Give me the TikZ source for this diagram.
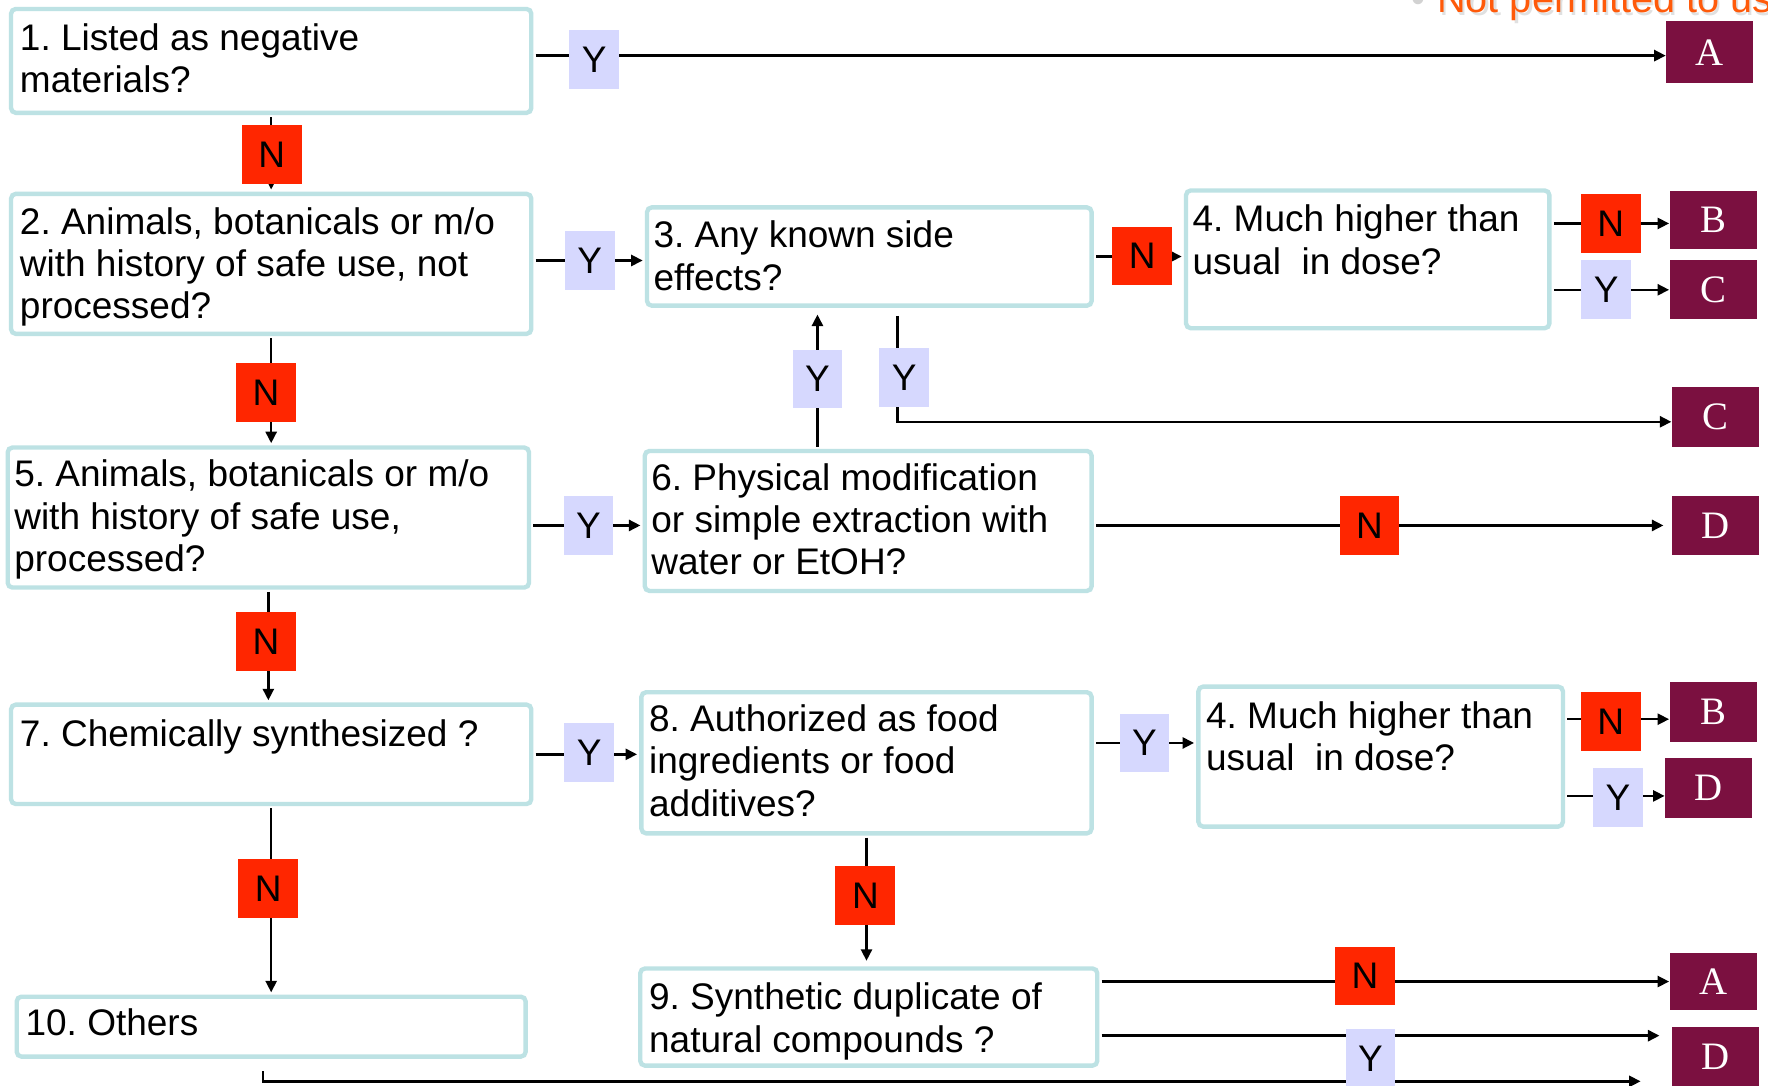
\documentclass[tikz,border=0pt]{standalone}
\usepackage{fontspec}
\setmainfont{Liberation Sans}
\newfontfamily\lettfont{Liberation Serif}
\usetikzlibrary{arrows.meta}
\definecolor{boxline}{RGB}{189,226,228}
\definecolor{yesfill}{RGB}{214,216,254}
\definecolor{nofill}{RGB}{255,38,0}
\definecolor{endfill}{RGB}{123,16,64}
\definecolor{warn}{RGB}{255,90,10}
\newcommand\qfont{\fontsize{9.33pt}{10.67pt}\selectfont\frenchspacing}
\newcommand\qstrut{\rule{0pt}{8pt}}

\begin{document}
\begin{tikzpicture}[x=0.01cm,y=-0.01cm,
  qbox/.style={draw=boxline,line width=1.1pt,rounded corners=1.2pt,fill=white,inner sep=0pt},
  qtext/.style={anchor=north west,inner sep=0pt,align=left,font=\qfont},
  yes/.style={fill=yesfill,minimum width=0.44cm,minimum height=0.52cm,inner sep=0pt,font=\qfont},
  no/.style={fill=nofill,minimum width=0.53cm,minimum height=0.52cm,inner sep=0pt,font=\qfont},
  endbox/.style={fill=endfill,text=white,minimum width=0.77cm,minimum height=0.53cm,inner sep=0pt,
    font=\lettfont\fontsize{9.8pt}{11pt}\selectfont},
  link/.style={line width=0.6pt,shorten <=0.55pt,-{Triangle[length=2.9pt,width=2.8pt]}},
  intobox/.style={shorten >=0.55pt}
]
\useasboundingbox (0,0) rectangle (1568,963);
\fill[white] (0,0) rectangle (1568,963);

% heading note, partly cut by the page edge
\node[anchor=base west,inner sep=0pt,font=\fontsize{10pt}{12pt}\selectfont,text=gray!40,opacity=0.6] (noteshade) at (1276,13.5) {Not permitted to use};
\node[anchor=base west,inner sep=0pt,font=\fontsize{10pt}{12pt}\selectfont,text=warn] (note) at (1274,11.5) {Not permitted to use};
\node[anchor=base west,inner sep=0pt,font=\fontsize{10pt}{12pt}\selectfont,text=gray!35] (notedot) at (1251,11.5) {•};

% question boxes
\node[qbox,minimum width=4.611cm,minimum height=0.921cm] (q1) at (240.5,54) {};
\node[qbox,minimum width=4.611cm,minimum height=1.241cm] (q2) at (240.5,234) {};
\node[qbox,minimum width=3.941cm,minimum height=0.871cm] (q3) at (771,227.5) {};
\node[qbox,minimum width=3.221cm,minimum height=1.221cm] (q4a) at (1213,230) {};
\node[qbox,minimum width=4.621cm,minimum height=1.241cm] (q5) at (238,459) {};
\node[qbox,minimum width=3.961cm,minimum height=1.241cm] (q6) at (770,462) {};
\node[qbox,minimum width=4.611cm,minimum height=0.881cm] (q7) at (240.5,669) {};
\node[qbox,minimum width=3.991cm,minimum height=1.251cm] (q8) at (768.5,676.5) {};
\node[qbox,minimum width=3.231cm,minimum height=1.241cm] (q4b) at (1224.5,671) {};
\node[qbox,minimum width=4.051cm,minimum height=0.861cm] (q9) at (770.5,902) {};
\node[qbox,minimum width=4.511cm,minimum height=0.531cm] (q10) at (240.5,910.5) {};

% question texts
\node[qtext] (t1) at (17,15.9) {\qstrut 1. Listed as negative\\materials?};
\node[qtext] (t2) at (17,178.9) {\qstrut 2. Animals, botanicals or m/o\\with history of safe use, not\\processed?};
\node[qtext] (t3) at (579,190.9) {\qstrut 3. Any known side\\effects?};
\node[qtext] (t4a) at (1057,176.9) {\qstrut 4. Much higher than\\usual\ \ in dose?};
\node[qtext] (t5) at (12,402.9) {\qstrut 5. Animals, botanicals or m/o\\with history of safe use,\\processed?};
\node[qtext] (t6) at (577,405.9) {\qstrut 6. Physical modification\\or simple extraction with\\water or EtOH?};
\node[qtext] (t7) at (17,632.9) {\qstrut 7. Chemically synthesized ?};
\node[qtext] (t8) at (575,619.9) {\qstrut 8. Authorized as food\\ingredients or food\\additives?};
\node[qtext] (t4b) at (1069,616.9) {\qstrut 4. Much higher than\\usual\ \ in dose?};
\node[qtext] (t9) at (575,866.9) {\qstrut 9. Synthetic duplicate of\\natural compounds ?};
\node[qtext] (t10) at (22,889.9) {\qstrut 10. Others};

% outcome boxes
\node[endbox,minimum height=0.55cm] (eA1) at (1516.5,46.5) {A};
\node[endbox,minimum height=0.52cm] (eB1) at (1519.5,195) {B};
\node[endbox,minimum height=0.52cm] (eC1) at (1519.5,257) {C};
\node[endbox] (eC2) at (1521.5,369.5) {C};
\node[endbox,minimum height=0.52cm] (eD1) at (1521.5,466) {D};
\node[endbox] (eB2) at (1519.5,631.5) {B};
\node[endbox] (eD2) at (1515.5,698.5) {D};
\node[endbox,minimum height=0.51cm] (eA2) at (1519.5,870.5) {A};
\node[endbox] (eD3) at (1521.5,937.5) {D};

% connectors
\draw[link] ([yshift=-0.8pt]q1.east |- eA1.west) -- ([yshift=-0.8pt]eA1.west);
\draw[link,intobox] (q1.south) -- (q2.north);
\draw[link,intobox] ([yshift=0.85pt]q2.east) -- ([yshift=0.85pt]q2.east -| q3.west);
\draw[link,intobox] (q3.east) -- (q3.east -| q4a.west);
\draw[link] ([yshift=-0.9pt]q4a.east |- eB1.west) -- ([yshift=-0.9pt]eB1.west);
\draw[link] (q4a.east |- eC1.west) -- (eC1.west);
\draw[link,intobox] (q2.south) -- (q2.south |- q5.north);
\draw[link,shorten >=1.7pt] ([xshift=-12.8pt]q6.north) -- ([xshift=-12.8pt]q6.north |- q3.south);
\draw[link,shorten <=2pt] ([xshift=7.1pt]q3.south) |- ([yshift=-1.3pt]eC2.west);
\draw[link,intobox] (q5.east |- eD1.west) -- (q6.west |- eD1.west);
\draw[link,shorten >=2pt] (q6.east |- eD1.west) -- (eD1.west);
\draw[link,intobox] (q5.south) -- (q5.south |- q7.north);
\draw[link,intobox] (q7.east) -- (q7.east -| q8.west);
\draw[link,intobox] ([yshift=5pt]q8.east) -- ([yshift=5pt]q8.east -| q4b.west);
\draw[link] ([yshift=-1.8pt]q4b.east |- eB2.west) -- ([yshift=-1.8pt]eB2.west);
\draw[link] ([yshift=-2.1pt]q4b.east |- eD2.west) -- ([yshift=-2.1pt]eD2.west);
\draw[link,intobox] (q7.south) -- (q7.south |- q10.north);
\draw[link,shorten >=1.4pt] (q8.south) -- (q8.south |- q9.north);
\draw[link] (q9.east |- eA2.west) -- (eA2.west);
\draw[link,shorten >=3pt] ([yshift=5.4pt]q9.east |- eD3.west) -- ([yshift=5.4pt]eD3.west);
\coordinate (tail) at (1455,959);
\draw[link] ([xshift=-2.1pt,yshift=-2.6pt]q10.south) |- (tail);

% answer tags on the connectors
\node[yes] (y1) at (527,53) {Y};
\node[no] (n1) at (241,137) {N};
\node[yes] (y2) at (523,231) {Y};
\node[no] (n2) at (1013,227) {N};
\node[no] (n3) at (1428.5,198.5) {N};
\node[yes] (y3) at (1424.5,257) {Y};
\node[yes] (y4) at (725,336) {Y};
\node[yes] (y5) at (802,335) {Y};
\node[no] (n4) at (236,348) {N};
\node[yes] (y6) at (522,466) {Y};
\node[no] (n5) at (1214.5,466) {N};
\node[no] (n6) at (236,569) {N};
\node[yes] (y7) at (522.5,667.5) {Y};
\node[yes] (y8) at (1015,659) {Y};
\node[no] (n7) at (1428.5,640) {N};
\node[yes] (y9) at (1435,707.5) {Y};
\node[no] (n8) at (238,788) {N};
\node[no] (n9) at (767.5,794) {N};
\node[no] (n10) at (1210.5,865.5) {N};
\node[yes] (y10) at (1215.5,939) {Y};
\end{tikzpicture}
\end{document}
